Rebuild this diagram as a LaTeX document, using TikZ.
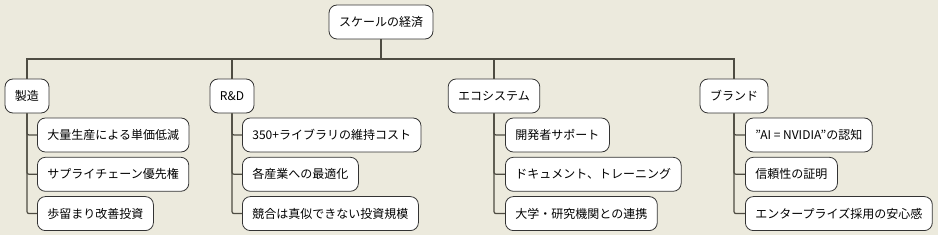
\documentclass[tikz,border=0pt]{standalone}
\usepackage{fontspec}
\setmainfont{Noto Sans CJK JP}[Ligatures=ResetAll]
\usepackage{xcolor}
\usetikzlibrary{positioning}

\definecolor{paper}{HTML}{ECEADD}
\definecolor{wire}{HTML}{4E4C42}

\begin{document}
\begin{tikzpicture}[
  x=1pt, y=-1pt,
  topic/.style={draw=black!80, fill=white, rounded corners=8pt, minimum height=34pt, inner xsep=10pt, font=\fontsize{12}{14}\selectfont, line width=0.8pt},
  leaf/.style={topic, anchor=west},
  trunk/.style={wire, line width=1.4pt},
  branch/.style={wire, line width=1.2pt, rounded corners=2pt},
  node distance=4.5pt
]
  % canvas
  \fill[paper] (0,0) rectangle (938,235);
  \useasboundingbox (0,0) rectangle (938,235);

  % Root
  \node[topic] (root) at (381,22) {スケールの経済};
  \coordinate (bus) at (381,59);

  % Pillars
  \node[topic] (mfg) at (27,96) {製造};
  \node[topic] (rnd) at (232,96) {R\&D};
  \node[topic] (eco) at (494,96) {エコシステム};
  \node[topic] (brand) at (734,96) {ブランド};

  % Manufacturing
  \node[leaf] (mfg1) at (37,135) {大量生産による単価低減};
  \node[leaf, below=of mfg1.south west, anchor=north west] (mfg2) {サプライチェーン優先権};
  \node[leaf, below=of mfg2.south west, anchor=north west] (mfg3) {歩留まり改善投資};

  % R&D
  \node[leaf] (rnd1) at (242,135) {350+ライブラリの維持コスト};
  \node[leaf, below=of rnd1.south west, anchor=north west] (rnd2) {各産業への最適化};
  \node[leaf, below=of rnd2.south west, anchor=north west] (rnd3) {競合は真似できない投資規模};

  % Ecosystem
  \node[leaf] (eco1) at (505,135) {開発者サポート};
  \node[leaf, below=of eco1.south west, anchor=north west] (eco2) {ドキュメント、トレーニング};
  \node[leaf, below=of eco2.south west, anchor=north west] (eco3) {大学・研究機関との連携};

  % Brand
  \node[leaf] (brand1) at (745,135) {"AI = NVIDIA"の認知};
  \node[leaf, below=of brand1.south west, anchor=north west] (brand2) {信頼性の証明};
  \node[leaf, below=of brand2.south west, anchor=north west] (brand3) {エンタープライズ採用の安心感};

  % Connectors
  \draw[trunk] (root.south) -- (bus);
  \draw[trunk] (bus) -| (mfg.north);
  \draw[trunk] (bus) -| (rnd.north);
  \draw[trunk] (bus) -| (eco.north);
  \draw[trunk] (bus) -| (brand.north);

  \foreach \p in {mfg,rnd,eco,brand}
    \foreach \i in {1,2,3}
      \draw[branch] (\p.south) |- (\p\i.west);
\end{tikzpicture}
\end{document}
